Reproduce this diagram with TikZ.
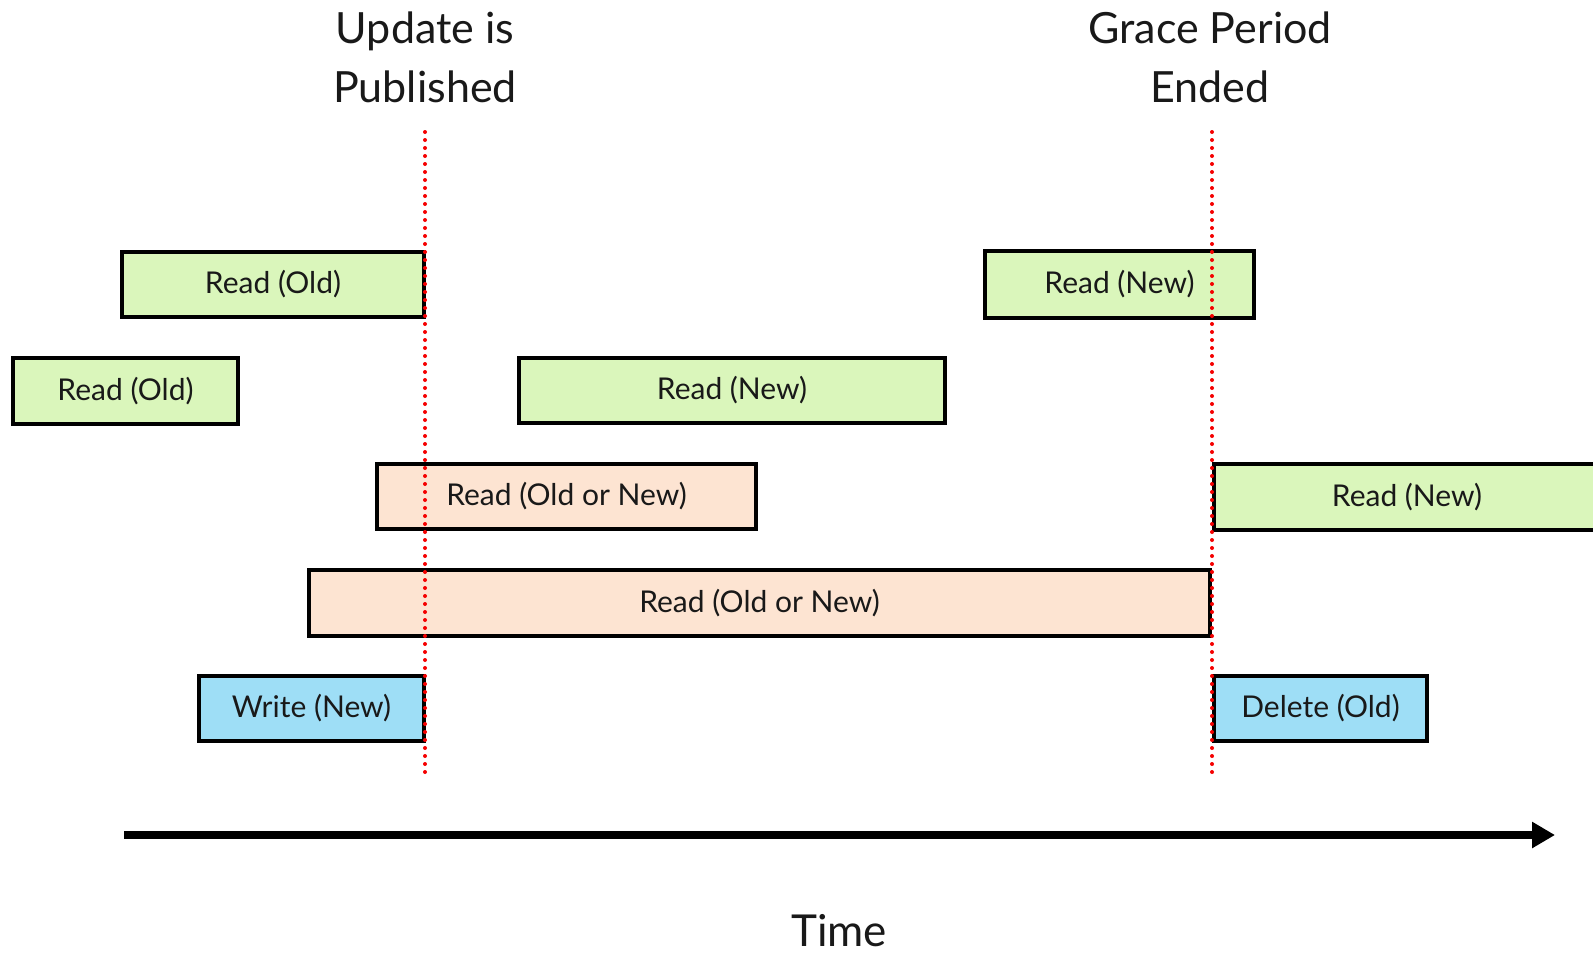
\documentclass[tikz,border=0pt]{standalone}
\usepackage{fontspec}
\setmainfont{Lato}
\usetikzlibrary{arrows.meta}
\definecolor{readgreen}{RGB}{218,246,187}
\definecolor{readpeach}{RGB}{253,228,210}
\definecolor{writeblue}{RGB}{158,222,246}
\definecolor{dotred}{RGB}{245,0,0}
\begin{document}
\begin{tikzpicture}[x=1pt,y=-1pt,
  box/.style={draw=black, line width=4pt, inner sep=0pt, font=\fontsize{30}{34}\selectfont, text=black!90},
  oldbox/.style={box, fill=readgreen},
  mixbox/.style={box, fill=readpeach},
  wbox/.style={box, fill=writeblue},
  mark line/.style={draw=dotred, line width=4pt, line cap=round, dash pattern=on 0pt off 8pt},
  title/.style={align=center, font=\fontsize{43}{59}\selectfont, text=black!90},
  timeline/.style={line width=8pt, -{Triangle[length=23pt,width=25pt]}}
]
\useasboundingbox (0,0) rectangle (1593,954);
% boxes
\node[oldbox, minimum width=302pt, minimum height=65pt] (r1) at (273,284.5) {Read (Old)};
\node[oldbox, minimum width=225pt, minimum height=66pt] (r2) at (125.5,391) {Read (Old)};
\node[oldbox, minimum width=269pt, minimum height=67pt] (r3) at (1119.5,284.5) {Read (New)};
\node[oldbox, minimum width=426pt, minimum height=65pt] (r4) at (732,390.5) {Read (New)};
\node[mixbox, minimum width=379pt, minimum height=65pt] (r5) at (566.5,496.5) {Read (Old or New)};
\node[oldbox, minimum width=386pt, minimum height=66pt] (r6) at (1407,497) {Read (New)};
\node[mixbox, minimum width=901pt, minimum height=66pt] (r7) at (759.5,603) {Read (Old or New)};
\node[wbox, minimum width=225pt, minimum height=65pt] (w1) at (311.5,708.5) {Write (New)};
\node[wbox, minimum width=213pt, minimum height=65pt] (d1) at (1320.5,708.5) {Delete (Old)};
% titles
\node[title] (t1) at (425,57) {Update is\\Published};
\node[title] (t2) at (1210,57) {Grace Period\\Ended};
% dotted marker lines
\coordinate (m1top) at (425,132);
\coordinate (m1bot) at (425,775);
\coordinate (m2top) at (1212,132);
\coordinate (m2bot) at (1212,775);
\draw[mark line] (m1top) -- (m1bot);
\draw[mark line] (m2top) -- (m2bot);
% time axis
\coordinate (ta) at (124,835);
\coordinate (tb) at (1555,835);
\draw[timeline] (ta) -- (tb);
\node[font=\fontsize{44}{52}\selectfont, text=black!90, anchor=base, inner sep=0pt, text depth=0pt] (time) at (839,946) {Time};
\end{tikzpicture}
\end{document}
